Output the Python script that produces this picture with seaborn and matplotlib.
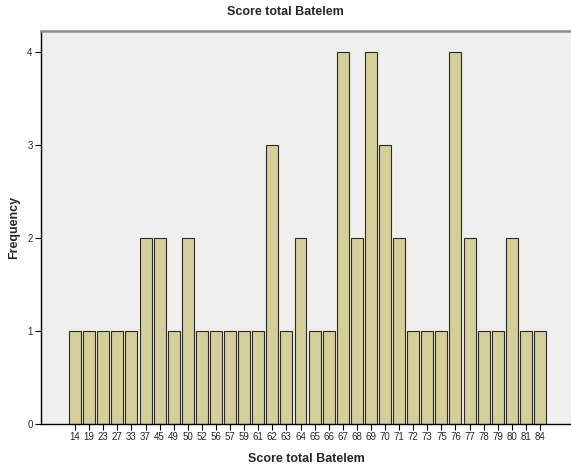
import matplotlib
matplotlib.use("Agg")
import matplotlib.pyplot as plt
import seaborn as sns
import pandas as pd

scores = ["14", "19", "23", "27", "33", "37", "45", "49", "50", "52", "56", "57",
          "59", "61", "62", "63", "64", "65", "66", "67", "68", "69", "70", "71",
          "72", "73", "75", "76", "77", "78", "79", "80", "81", "84"]
freq = [1, 1, 1, 1, 1, 2, 2, 1, 2, 1, 1, 1,
        1, 1, 3, 1, 2, 1, 1, 4, 2, 4, 3, 2,
        1, 1, 1, 4, 2, 1, 1, 2, 1, 1]
yticks = [0, 1, 2, 3, 4]

sns.set_theme(style="white")
plt.rcParams['font.family'] = ['Liberation Sans', 'DejaVu Sans']

df = pd.DataFrame({"score": scores, "freq": freq})

fig = plt.figure(figsize=(5.71, 4.68), dpi=100)
ax = fig.add_axes([41/571, 44/468, 1 - 41/571, (424-31)/468])
ax.set_facecolor("#EFEFEF")

sns.barplot(data=df, x="score", y="freq", order=scores, color="#D4CF99",
            saturation=1, width=0.85, edgecolor="#2a2a2a", linewidth=0.8, ax=ax)

ax.set_xlim(-2.42, 35.2)
ax.set_ylim(0, 4.23)
ax.set_yticks(yticks)
ax.set_yticklabels([str(t) for t in yticks], fontsize=7)
ax.tick_params(axis="x", labelsize=7, length=4, width=0.8, color="black", direction="out", pad=2, bottom=True)
ax.tick_params(axis="y", labelsize=7, length=4, width=0.8, color="black", direction="out", pad=2, left=True)

for s in ["left", "bottom"]:
    ax.spines[s].set_color("black")
    ax.spines[s].set_linewidth(1.0)
ax.spines["right"].set_visible(False)
ax.spines["top"].set_color("#8c8c8c")
ax.spines["top"].set_linewidth(1.8)

ax.set_xlabel("Score total Batelem", fontsize=9, fontweight="bold", labelpad=8)
ax.set_ylabel("Frequency", fontsize=9, fontweight="bold", labelpad=5)
fig.text(0.5, 1 - 12/468, "Score total Batelem", ha="center", va="center",
         fontsize=9, fontweight="bold")

fig.savefig("out.png", dpi=100)
